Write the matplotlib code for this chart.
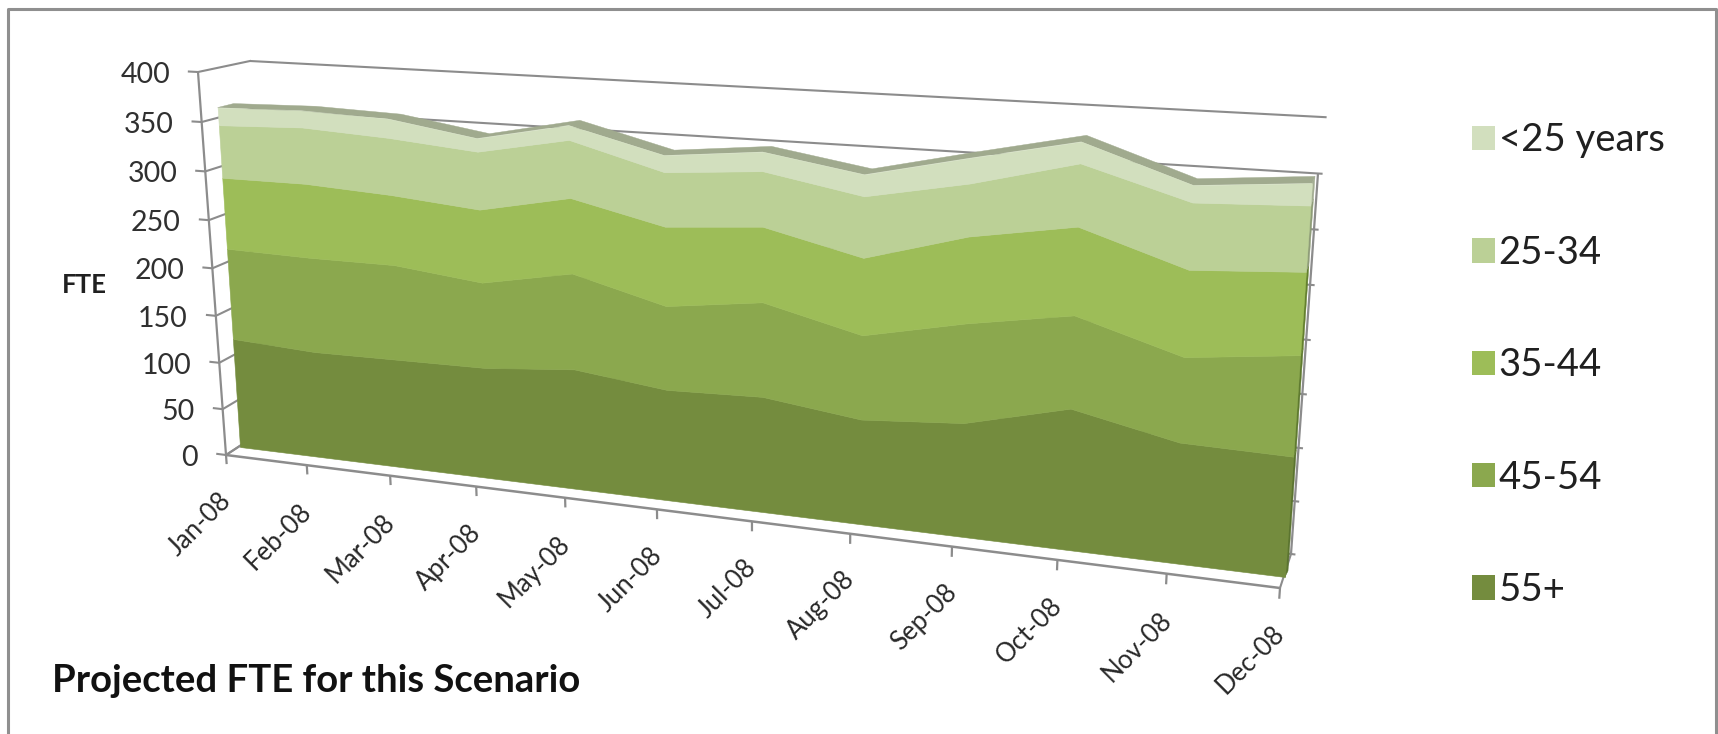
import numpy as np
import matplotlib
matplotlib.use('Agg')
import matplotlib.pyplot as plt
from matplotlib.patches import Patch
from matplotlib.transforms import Transform

plt.rcParams['font.family'] = ['Lato', 'DejaVu Sans']

months = ['Jan-08', 'Feb-08', 'Mar-08', 'Apr-08', 'May-08', 'Jun-08',
          'Jul-08', 'Aug-08', 'Sep-08', 'Oct-08', 'Nov-08', 'Dec-08']
age_55_plus = [118, 113, 114, 115, 123, 112, 115, 103, 110, 134, 113, 111]
age_45_54 = [96, 99, 98, 87, 96, 83, 92, 81, 94, 86, 78, 91]
age_35_44 = [74, 76, 71, 73, 74, 77, 72, 73, 80, 80, 78, 73]
age_25_34 = [54, 57, 57, 57, 56, 52, 52, 57, 48, 56, 59, 57]
age_under_25 = [18, 17, 19, 13, 14, 16, 18, 20, 23, 19, 15, 19]

y_ticks = [0, 50, 100, 150, 200, 250, 300, 350, 400]
layer_names = ['55+', '45-54', '35-44', '25-34', '<25 years']
layer_colors = ['#748C3E', '#8BA84E', '#9DBD58', '#BBD096', '#D2DFBE']
side_colors = ['#5B7430', '#5F7A30', '#64802F', '#8E9C78', '#A3AD92']
top_color = '#A0AA8E'
line_color = '#8C8C8C'


class PlaneTransform(Transform):
    """Perspective map from (month index, value) onto a quad in pixels."""
    input_dims = 2
    output_dims = 2
    is_separable = False
    has_inverse = False

    def __init__(self, corners, xmax=11, ymax=400):
        super().__init__()
        src = [(0, 0), (xmax, 0), (0, ymax), (xmax, ymax)]
        rows, rhs = [], []
        for (x, y), (u, v) in zip(src, corners):
            rows.append([x, y, 1, 0, 0, 0, -u * x, -u * y])
            rows.append([0, 0, 0, x, y, 1, -v * x, -v * y])
            rhs += [u, v]
        h = np.linalg.solve(np.array(rows, float), np.array(rhs, float))
        self.h = np.append(h, 1).reshape(3, 3)

    def transform_non_affine(self, values):
        values = np.asarray(values, float)
        pts = np.column_stack([values, np.ones(len(values))]) @ self.h.T
        return pts[:, :2] / pts[:, 2:]


# corners are floor-left, floor-right, top-left, top-right of each plane
axis_plane = PlaneTransform([(226, 455), (1280, 588), (198, 72), (1312, 130)])
wall_plane = PlaneTransform([(258, 434), (1291, 554), (250, 61), (1322, 117)])
front_plane = PlaneTransform([(240, 447), (1285, 577), (215, 68), (1316, 125)])
back_plane = PlaneTransform([(256, 443), (1288, 571), (231, 64), (1319, 118)])

fig = plt.figure(figsize=(17.18, 7.34), dpi=100)
ax = fig.add_axes([0, 0, 1, 1])
ax.set_xlim(0, 1718)
ax.set_ylim(734, 0)
ax.axis('off')

# chart border, runs off the bottom of the image
ax.plot([8, 8, 1716, 1716], [740, 9, 9, 740], color='#8F8F8F', lw=2.2, zorder=1)


def plane_line(plane, xs, ys, **kw):
    ax.plot(xs, ys, transform=plane + ax.transData, color=line_color,
            solid_capstyle='butt', **kw)


def to_px(plane, x, y):
    return plane.transform(np.column_stack([x, y]))


# back wall gridlines, side wall lines and the y axis ticks
for val in y_ticks:
    plane_line(wall_plane, [0, 11.04], [val, val], lw=1.5, zorder=2)
    p0 = to_px(axis_plane, [-0.11], [val])[0]
    p1 = to_px(axis_plane, [0], [val])[0]
    p2 = to_px(wall_plane, [0], [val])[0]
    ax.plot([p0[0], p1[0], p2[0]], [p0[1], p1[1], p2[1]], color=line_color, lw=1.5, zorder=2)
    ax.text(p1[0] - 28, p1[1] + 3, str(val), ha='right', va='center', fontsize=20.5, color='#303030')

plane_line(axis_plane, [0, 0], [0, 400], lw=1.6, zorder=2)
plane_line(wall_plane, [11, 11], [0, 350], lw=1.6, zorder=2)
plane_line(axis_plane, [0, 11], [0, 0], lw=1.8, zorder=6)
floor_r = np.vstack([to_px(axis_plane, [11], [0]), to_px(wall_plane, [11], [0])])
floor_l = np.vstack([to_px(axis_plane, [0], [0]), to_px(wall_plane, [0], [0])])
ax.plot(floor_r[:, 0], floor_r[:, 1], color=line_color, lw=1.5, zorder=2)
ax.plot(floor_l[:, 0], floor_l[:, 1], color=line_color, lw=1.5, zorder=2)

# month ticks hang off the front floor edge
idx = np.arange(len(months))
for i, name in enumerate(months):
    plane_line(axis_plane, [i, i], [0, -10], lw=1.6, zorder=6)
    p = to_px(axis_plane, [i], [0])[0]
    ax.text(p[0] + 1, p[1] + 42, name, rotation=45, rotation_mode='anchor',
            ha='right', va='center', fontsize=18.5, color='#282828')

# stacked layers on the front face, with the right side face beside them
layers = [age_55_plus, age_45_54, age_35_44, age_25_34, age_under_25]
lower = np.zeros(len(months))
handles = []
for vals, name, col, side in zip(layers, layer_names, layer_colors, side_colors):
    upper = lower + np.array(vals)
    ax.fill_between(idx, lower, upper, transform=front_plane + ax.transData,
                    color=col, lw=0.4, zorder=5)
    edge = np.vstack([to_px(front_plane, [11, 11], [lower[-1], upper[-1]]),
                      to_px(back_plane, [11, 11], [upper[-1], lower[-1]])])
    ax.fill(edge[:, 0], edge[:, 1], color=side, lw=0.3, zorder=4)
    handles.append(Patch(facecolor=col, edgecolor='none', label=name))
    lower = upper

# thin top face of the stack
top_front = to_px(front_plane, idx, lower)
top_back = to_px(back_plane, idx, lower)
top_face = np.vstack([top_front, top_back[::-1]])
ax.fill(top_face[:, 0], top_face[:, 1], color=top_color, lw=0.3, zorder=4)

ax.legend(handles[::-1], layer_names[::-1], loc='upper left', bbox_to_anchor=(1472, 122.5),
          bbox_transform=ax.transData, frameon=False, borderpad=0, borderaxespad=0,
          fontsize=27.5, handlelength=0.6, handleheight=0.6, handletextpad=0.1,
          labelspacing=2.0, labelcolor='#202020')

ax.text(84, 285, 'FTE', ha='center', va='center', fontsize=18.5, fontweight='bold', color='#202020')
ax.text(52, 692, 'Projected FTE for this Scenario', ha='left', va='baseline',
        fontsize=27.5, fontweight='bold', color='#111111')

fig.savefig('out.png', dpi=100)
